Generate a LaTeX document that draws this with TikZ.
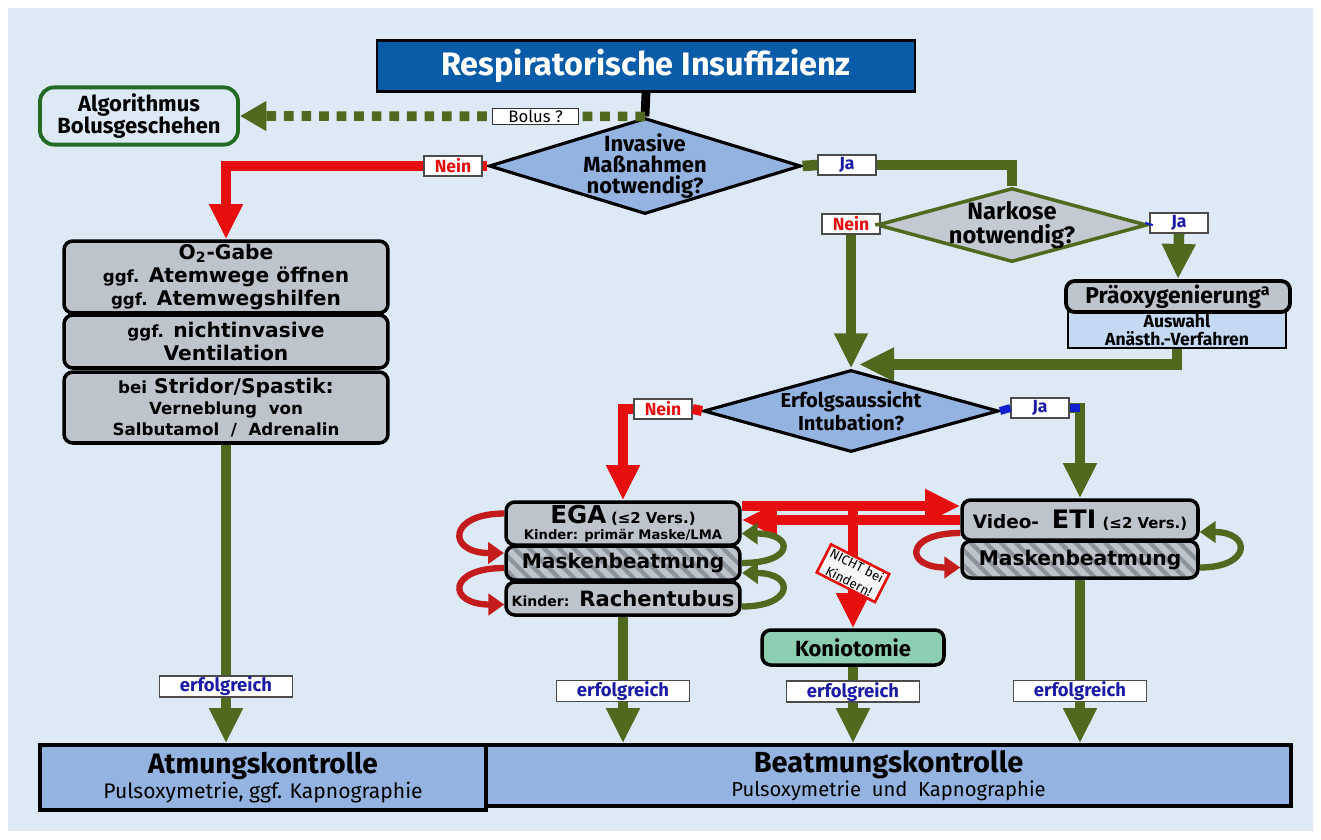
\documentclass[tikz,border=0pt]{standalone}
\usepackage{fontspec}
\setmainfont{Fira Sans}
\newfontfamily\verd{DejaVu Sans}
\usepackage{tikz}
\usetikzlibrary{arrows.meta, shapes.geometric, patterns.meta}

\definecolor{bgblue}{HTML}{DDEAF6}
\definecolor{titleblue}{HTML}{0A5BA8}
\definecolor{diablue}{HTML}{95B3E0}
\definecolor{diagray}{HTML}{C3CAD2}
\definecolor{boxgray}{HTML}{BEC4CB}
\definecolor{hatchgray}{HTML}{8D939A}
\definecolor{auswblue}{HTML}{C6D9F3}
\definecolor{mint}{HTML}{8DCDB2}
\definecolor{okgreen}{HTML}{4F6A1E}
\definecolor{algogreen}{HTML}{236B23}
\definecolor{nored}{HTML}{E60E0E}
\definecolor{curlred}{HTML}{C41C1C}
\definecolor{jablue}{HTML}{1B1BA5}
\definecolor{stubblue}{HTML}{1020D0}

\newcommand{\fsz}[2]{\fontsize{#1}{#2}\selectfont}

\begin{document}
\begin{tikzpicture}[x=0.02cm, y=-0.02cm,
    box/.style={draw=black, line width=2pt, rounded corners=5pt, fill=boxgray, align=center, inner sep=1pt},
    hatchbox/.style={box, preaction={fill=boxgray}, pattern={Lines[angle=-45, distance=6pt, line width=2.4pt]}, pattern color=hatchgray},
    ctrl/.style={draw=black, line width=2pt, fill=diablue, align=center, inner sep=1pt},
    dia/.style={diamond, draw=black, line width=1.8pt, fill=diablue, align=center},
    lbl/.style={solid, draw=black!70, line width=0.8pt, fill=white, minimum width=1.16cm, minimum height=0.4cm, inner sep=0.5pt, font=\fsz{10}{12}\bfseries},
    nein/.style={lbl, text=nored},
    ja/.style={lbl, text=jablue},
    erf/.style={lbl, text=jablue, minimum width=2.66cm, minimum height=0.42cm, font=\fsz{10.5}{12}\bfseries},
    gr/.style={draw=okgreen, line width=6pt, -{Triangle[width=18pt, length=20pt]}},
    rd/.style={draw=nored, line width=5.7pt, -{Triangle[width=18pt, length=20pt]}},
    grline/.style={draw=okgreen, line width=6pt},
    rdline/.style={draw=nored, line width=5.7pt},
    stub/.style={draw=stubblue, line width=4.5pt},
    grc/.style={draw=okgreen, line width=3.6pt, -{Triangle[width=12pt, length=9pt]}},
    rdc/.style={draw=curlred, line width=3.6pt, -{Triangle[width=12pt, length=9pt]}}]

    % background
    \useasboundingbox (0,0) rectangle (1321,839);
    \fill[white] (0,0) rectangle (1321,839);
    \fill[bgblue] (8,8) rectangle (1313,831);

    % top
    \node[draw=black, line width=1.2pt, fill=titleblue, text=white, minimum width=10.76cm, minimum height=1.02cm, font=\fsz{18.5}{20}\bfseries] (resp) at (646,66) {Respiratorische Insuffizienz};
    \node[dia, minimum width=6.24cm, minimum height=1.92cm, aspect=3.25, inner sep=-4pt, font=\fsz{12.5}{12}\bfseries] (inv) at (645,166) {Invasive\\Maßnahmen\\notwendig?};
    \node[draw=algogreen, line width=2.2pt, rounded corners=8pt, fill=bgblue, minimum width=3.96cm, minimum height=1.1cm, align=center, font=\fsz{12.5}{13}\bfseries] (algo) at (139,116) {Algorithmus\\Bolusgeschehen};
    \node[nein] (nein1) at (453,166) {Nein};
    \node[ja] (ja1) at (847,165) {Ja};

    % left column
    \node[box, minimum width=6.48cm, minimum height=1.44cm, font=\verd\bfseries\fsz{11.5}{13}] (otwo) at (226,277) {O\textsubscript{2}-Gabe\\{\fsz{9.5}{13}ggf.} Atemwege öffnen\\{\fsz{9.5}{13}ggf.} Atemwegshilfen};
    \node[box, minimum width=6.48cm, minimum height=1.06cm, font=\verd\bfseries\fsz{11.5}{13}] (niv) at (226,341.5) {{\fsz{9.5}{13}ggf.} nichtinvasive\\Ventilation};
    \node[box, minimum width=6.48cm, minimum height=1.42cm, font=\verd\bfseries\fsz{11.5}{12}] (strid) at (226,407.5) {{\fsz{9.5}{12}bei} Stridor/Spastik:\\{\fsz{9.5}{12}Verneblung\ \ von}\\{\fsz{9.5}{12}Salbutamol\ \ /\ \ Adrenalin}};

    % narkose branch
    \node[dia, draw=okgreen, line width=2pt, fill=diagray, minimum width=5.4cm, minimum height=1.48cm, aspect=3.65, inner sep=-6pt, font=\fsz{13.5}{14}\bfseries] (nark) at (1012,225) {Narkose\\notwendig?};
    \node[nein] (nein2) at (851,224) {Nein};
    \node[ja] (ja2) at (1179,223) {Ja};
    \node[draw=black, line width=1.2pt, fill=auswblue, minimum width=4.36cm, minimum height=0.7cm, align=center, inner xsep=0pt, inner ysep=1.5pt, font=\fsz{10}{10}\bfseries] (ausw) at (1177,330) {Auswahl\\Anästh.-Verfahren};
    \node[box, line width=2.2pt, minimum width=4.48cm, minimum height=0.62cm, font=\fsz{13}{15}\bfseries] (prae) at (1178,296.5) {Präoxygenierung\textsuperscript{a}};

    % intubation
    \node[dia, minimum width=5.9cm, minimum height=1.64cm, aspect=3.6, inner sep=-4pt, font=\fsz{11.5}{13}\bfseries] (chance) at (851,411) {Erfolgsaussicht\\Intubation?};
    \node[nein] (nein3) at (663,409) {Nein};
    \node[ja] (ja3) at (1040,408) {Ja};

    \node[box, minimum width=4.68cm, minimum height=0.86cm, font=\verd\bfseries\fsz{7.5}{9}] (ega) at (623,523.5) {{\fsz{14}{9}EGA} {\fsz{8.5}{9}(≤2 Vers.)}\\Kinder: primär Maske/LMA};
    \node[hatchbox, minimum width=4.68cm, minimum height=0.68cm, font=\verd\bfseries\fsz{11.5}{13}] (maskA) at (623,563) {Maskenbeatmung};
    \node[box, minimum width=4.68cm, minimum height=0.66cm, font=\verd\bfseries\fsz{12}{13}] (rach) at (623,598.5) {{\fsz{8}{13}Kinder:} Rachentubus};

    \node[box, minimum width=4.72cm, minimum height=0.8cm, font=\verd\bfseries\fsz{10.5}{13}] (eti) at (1080,520) {Video-\ \ {\fsz{14.5}{13}ETI} {\fsz{8.5}{13}(≤2 Vers.)}};
    \node[hatchbox, minimum width=4.72cm, minimum height=0.74cm, font=\verd\bfseries\fsz{11.5}{13}] (maskB) at (1080,559.5) {Maskenbeatmung};

    \node[box, fill=mint, minimum width=3.64cm, minimum height=0.7cm, font=\fsz{12.5}{14}\bfseries] (koni) at (853,647.5) {Koniotomie};

    % bottom
    \node[ctrl, minimum width=16.1cm, minimum height=1.22cm] (beat) at (888.5,775.5) {{\fsz{16.5}{18}\bfseries Beatmungskontrolle}\\{\fsz{11.5}{13}Pulsoxymetrie\ \ und\ \ Kapnographie}};
    \node[ctrl, minimum width=8.92cm, minimum height=1.3cm] (atm) at (263,777.5) {{\fsz{16}{18}\bfseries Atmungskontrolle}\\{\fsz{12}{13}Pulsoxymetrie, ggf. Kapnographie}};

    % connectors
    \draw[line width=5pt] (resp.south) -- (inv.north);
    \draw[draw=okgreen, line width=5.5pt, dash pattern=on 5.5pt off 4.5pt, -{Triangle[width=16pt, length=15pt]}] (inv.north) -- node[lbl, pos=0.27, draw=black!80, minimum width=1.72cm, minimum height=0.32cm, font=\fsz{9.5}{11}] (bolus) {Bolus ?} (algo.east);

    \draw[rdline] (inv.west) -- (nein1.east);
    \draw[rd] (nein1.west) -| (otwo.north);
    \draw[grline] (inv.east) -- (ja1.west);
    \draw[grline] (ja1.east) -| (nark.north);

    \draw[okgreen, line width=2pt] (nark.west) -- (nein2.east);
    \draw[gr] (nein2.south) -- (chance.north);
    \draw[stub] (nark.east) -- (ja2.west);
    \draw[gr] (ja2.south) -- (prae.north);
    \draw[gr] (ausw.south) |- ([shift={(8,-4)}]chance.north);

    \draw[rdline] (chance.west) -- (nein3.east);
    \draw[rd] (nein3.west) -| (ega.north);
    \draw[stub] (chance.east) -- (ja3.west);
    \draw[gr] (ja3.east) -| (eti.north);
    \draw[stub] (ja3.east) -- (eti.north |- ja3.east);

    % EGA <-> Video-ETI, Koniotomie
    \coordinate (ytop) at (0,506);
    \coordinate (ylow) at (0,520);
    \coordinate (split) at (koni.north |- ytop);
    \draw[rd] (ega.east |- ytop) -- (eti.west |- ytop);
    \draw[rd] (eti.west |- ylow) -- (ega.east |- ylow);
    \draw[rd] (split) -- node[pos=0.55, draw=nored, line width=1.5pt, fill=white!85!boxgray, rotate=-27, align=center, inner xsep=2pt, inner ysep=1pt, font=\fsz{7.5}{10}] (kids) {NICHT bei\\Kindern!} (koni.north);

    % loops
    \draw[rdc] ([shift={(0,-10)}]ega.west) .. controls +(-57,0) and +(-57,0) .. ([shift={(0,-10)}]maskA.west);
    \draw[rdc] ([shift={(0,5)}]maskA.west) .. controls +(-57,0) and +(-57,0) .. ([shift={(0,6)}]rach.west);
    \draw[grc] (maskA.east) .. controls +(53,0) and +(53,0) .. ([shift={(0,10)}]ega.east);
    \draw[grc] ([shift={(0,8)}]rach.east) .. controls +(53,0) and +(53,0) .. ([shift={(0,10)}]maskA.east);
    \draw[rdc] ([shift={(0,13)}]eti.west) .. controls +(-56,0) and +(-56,0) .. ([shift={(0,8)}]maskB.west);
    \draw[grc] ([shift={(0,8)}]maskB.east) .. controls +(52,0) and +(52,0) .. ([shift={(0,12)}]eti.east);

    % to the controls
    \draw[gr] (strid.south) -- node[erf, pos=0.81] (ok1) {erfolgreich} (strid.south |- atm.north);
    \draw[gr] (rach.south) -- node[erf, pos=0.585] (ok2) {erfolgreich} (rach.south |- beat.north);
    \draw[gr] (koni.south) -- node[erf, pos=0.325] (ok3) {erfolgreich} (koni.south |- beat.north);
    \draw[gr] (maskB.south) -- node[erf, pos=0.68] (ok4) {erfolgreich} (maskB.south |- beat.north);
\end{tikzpicture}
\end{document}
